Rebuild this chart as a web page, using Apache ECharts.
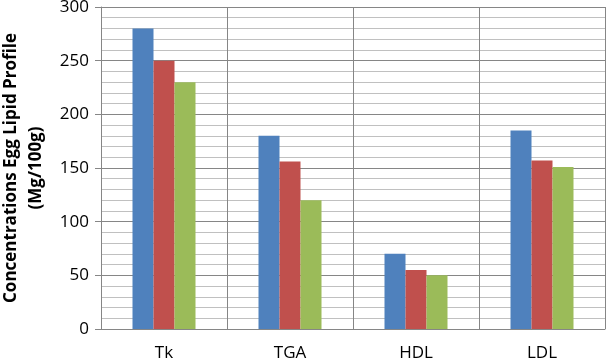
<!DOCTYPE html>
<html><head><meta charset="utf-8">
<script src="https://cdn.jsdelivr.net/npm/echarts@6/dist/echarts.min.js"></script>
<style>html,body{margin:0;padding:0;background:#fff;}#c{width:607px;height:363px;}</style>
</head><body><div id="c"></div>
<script>
const categories = ['Tk', 'TGA', 'HDL', 'LDL'];
const series1 = [280, 180, 70, 185];
const series2 = [250, 156, 55, 157];
const series3 = [230, 120, 50, 151];
const yTicks = [0, 50, 100, 150, 200, 250, 300];

const chart = echarts.init(document.getElementById('c'));
const font = 'Open Sans';
chart.setOption({
  animation: false,
  grid: {left: 101, right: 2, top: 7, bottom: 34, containLabel: false, outerBoundsMode: 'none'},
  xAxis: {
    type: 'category', data: categories,
    axisLine: {lineStyle: {color: '#868686', width: 1}},
    axisTick: {show: false},
    axisLabel: {color: '#000', fontFamily: font, fontSize: 17, margin: 16},
    splitLine: {show: true, lineStyle: {color: '#868686', width: 1}}
  },
  yAxis: {
    type: 'value', min: yTicks[0], max: yTicks[yTicks.length - 1], interval: 50,
    name: 'Concentrations Egg Lipid Profile\n(Mg/100g)',
    nameLocation: 'middle', nameRotate: 90, nameGap: 49,
    nameTextStyle: {color: '#000', fontFamily: font, fontWeight: 'bold', fontSize: 17, lineHeight: 25},
    axisLine: {show: true, lineStyle: {color: '#868686', width: 1}},
    axisTick: {show: true, length: 6, lineStyle: {color: '#868686'}},
    axisLabel: {color: '#000', fontFamily: font, fontSize: 17, margin: 12},
    splitLine: {show: true, lineStyle: {color: '#868686', width: 1}},
    minorTick: {show: false, splitNumber: 5},
    minorSplitLine: {show: true, lineStyle: {color: '#c0c0c0', width: 1}}
  },
  series: [
    {type: 'bar', data: series1, itemStyle: {color: '#4F81BD'}, barGap: '0%', barCategoryGap: '50%'},
    {type: 'bar', data: series2, itemStyle: {color: '#C0504D'}},
    {type: 'bar', data: series3, itemStyle: {color: '#9BBB59'}}
  ]
});
</script></body></html>
